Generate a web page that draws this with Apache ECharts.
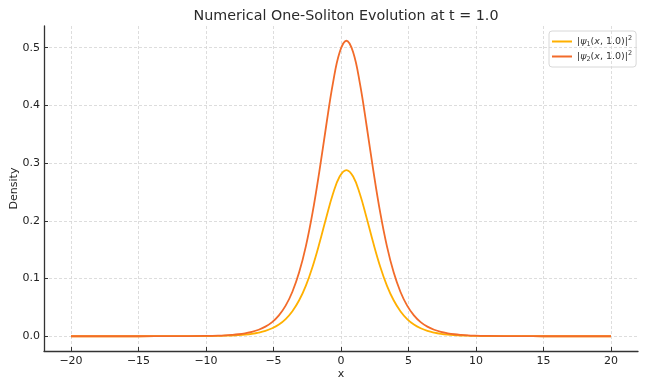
<!DOCTYPE html>
<html>
<head>
<meta charset="utf-8">
<script src="https://cdn.jsdelivr.net/npm/echarts@6/dist/echarts.min.js"></script>
<style>
html,body{margin:0;padding:0;background:#fff;}
#chart{width:648px;height:389px;}
</style>
</head>
<body>
<div id="chart"></div>
<script>
const xValues = [-20, -15, -12.6, -10.1, -9.6, -9.1, -8.6, -8.1, -7.6, -7.1, -6.6, -6.1, -5.6, -5.1, -4.6, -4.1, -3.6, -3.1, -2.6, -2.1, -1.6, -1.1, -0.6, -0.1, 0.4, 0.9, 1.4, 1.9, 2.4, 2.9, 3.4, 3.9, 4.4, 4.9, 5.4, 5.9, 6.4, 6.9, 7.4, 7.9, 8.4, 8.9, 9.4, 9.9, 10.4, 10.9, 13.4, 15, 20];
const psi1Density = [0, 0, 0.0001, 0.0003, 0.0004, 0.0006, 0.0009, 0.0013, 0.0019, 0.0028, 0.0042, 0.0063, 0.0093, 0.0138, 0.0203, 0.0298, 0.0434, 0.0623, 0.0878, 0.1210, 0.1610, 0.2049, 0.2464, 0.2768, 0.288, 0.2768, 0.2464, 0.2049, 0.1610, 0.1210, 0.0878, 0.0623, 0.0434, 0.0298, 0.0203, 0.0138, 0.0093, 0.0063, 0.0042, 0.0028, 0.0019, 0.0013, 0.0009, 0.0006, 0.0004, 0.0003, 0.0001, 0, 0];
const psi2Density = [0, 0, 0.0001, 0.0005, 0.0007, 0.0010, 0.0015, 0.0023, 0.0034, 0.0051, 0.0075, 0.0112, 0.0166, 0.0245, 0.0362, 0.0530, 0.0771, 0.1107, 0.1562, 0.2150, 0.2862, 0.3643, 0.4381, 0.4921, 0.512, 0.4921, 0.4381, 0.3643, 0.2862, 0.2150, 0.1562, 0.1107, 0.0771, 0.0530, 0.0362, 0.0245, 0.0166, 0.0112, 0.0075, 0.0051, 0.0034, 0.0023, 0.0015, 0.0010, 0.0007, 0.0005, 0.0001, 0, 0];
const xTicks = [-20, -15, -10, -5, 0, 5, 10, 15, 20];
const yTicks = [0, 0.1, 0.2, 0.3, 0.4, 0.5];
const seriesNames = ['psi1', 'psi2'];
const titleText = 'Numerical One-Soliton Evolution at t = 1.0';

const FONT = 'DejaVu Sans';
const chart = echarts.init(document.getElementById('chart'), null, {renderer: 'canvas'});
const pairs = arr => xValues.map((x, i) => [x, arr[i]]);
const gridLine = {show: true, lineStyle: {color: '#d4d4d4', type: [3, 2], width: 0.8}};
const richStyles = {
  i: {fontStyle: 'italic', fontFamily: FONT, fontSize: 9.5, color: '#333'},
  n: {fontFamily: FONT, fontSize: 9.5, color: '#333'},
  sub: {fontFamily: FONT, fontSize: 6.5, color: '#333', verticalAlign: 'bottom', padding: [6, 0, 0, 0]},
  sup: {fontFamily: FONT, fontSize: 6.5, color: '#333', verticalAlign: 'top', padding: [0, 0, 6, 0]}
};
chart.setOption({
  animation: false,
  backgroundColor: '#fff',
  title: {
    text: titleText, left: 341, top: 4, textAlign: 'center',
    textStyle: {fontFamily: FONT, fontSize: 14.3, fontWeight: 'normal', color: '#2a2a2a'}
  },
  legend: {
    orient: 'vertical', left: 549, top: 31,
    padding: [4, 4, 4, 3], itemGap: 2, itemWidth: 20, itemHeight: 14,
    icon: 'path://M0,6 L20,6 L20,8 L0,8 Z',
    borderColor: '#d8d8d8', borderWidth: 1, borderRadius: 3,
    data: seriesNames,
    formatter: name => name === 'psi1'
      ? '{n||}{i|ψ}{sub|1}{n|(}{i|x}{n|, 1.0)|}{sup|2}'
      : '{n||}{i|ψ}{sub|2}{n|(}{i|x}{n|, 1.0)|}{sup|2}',
    textStyle: {fontFamily: FONT, fontSize: 9.5, color: '#333', rich: richStyles}
  },
  grid: {left: 44, right: 10, top: 26, bottom: 38, outerBoundsMode: 'none', containLabel: false},
  xAxis: {
    type: 'value', min: -22, max: 22,
    name: 'x', nameLocation: 'middle', nameGap: 18, nameMoveOverlap: false,
    nameTextStyle: {fontFamily: FONT, fontSize: 11, color: '#222'},
    axisLine: {onZero: false, lineStyle: {color: '#333', width: 1.3}},
    axisTick: {inside: true, length: 4, customValues: xTicks, lineStyle: {color: '#333'}},
    axisLabel: {customValues: xTicks, fontFamily: FONT, fontSize: 11, color: '#222', margin: 5,
      formatter: v => v < 0 ? '\u2212' + (-v) : String(v)},
    splitLine: Object.assign({customValues: xTicks}, gridLine)
  },
  yAxis: {
    type: 'value', min: -0.0256, max: 0.5376,
    name: 'Density', nameLocation: 'middle', nameGap: 24, nameRotate: 90, nameMoveOverlap: false,
    nameTextStyle: {fontFamily: FONT, fontSize: 11, color: '#222'},
    axisLine: {show: true, onZero: false, lineStyle: {color: '#333', width: 1.3}},
    axisTick: {show: true, inside: true, length: 4, customValues: yTicks, lineStyle: {color: '#333'}},
    axisLabel: {customValues: yTicks, fontFamily: FONT, fontSize: 11, color: '#222', margin: 4,
      formatter: v => v.toFixed(1)},
    splitLine: Object.assign({customValues: yTicks}, gridLine)
  },
  series: [
    {name: 'psi1', type: 'line', data: pairs(psi1Density), smooth: 0.4, showSymbol: false, symbol: 'none',
      color: '#FFB000', lineStyle: {width: 1.8, color: '#FFB000'}},
    {name: 'psi2', type: 'line', data: pairs(psi2Density), smooth: 0.4, showSymbol: false, symbol: 'none',
      color: '#F26B2A', lineStyle: {width: 1.8, color: '#F26B2A'}}
  ]
});
</script>
</body>
</html>
